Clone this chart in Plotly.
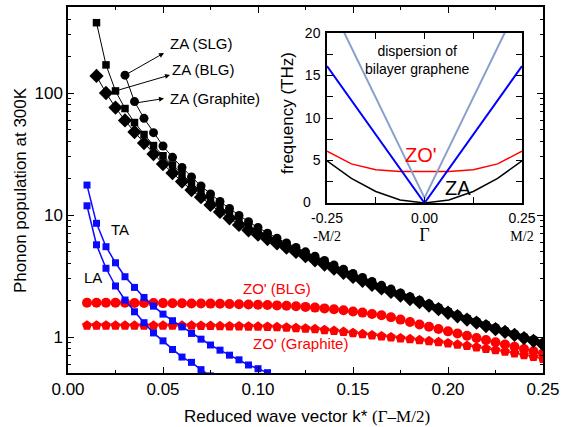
import math
import plotly.graph_objects as go

# ---------------- data (main panel) ----------------
k_all = [0.010, 0.015, 0.020, 0.025, 0.030, 0.035, 0.040, 0.045, 0.050, 0.055,
         0.060, 0.065, 0.070, 0.075, 0.080, 0.085, 0.090, 0.095, 0.100, 0.105,
         0.110, 0.115, 0.120, 0.125, 0.130, 0.135, 0.140, 0.145, 0.150, 0.155,
         0.160, 0.165, 0.170, 0.175, 0.180, 0.185, 0.190, 0.195, 0.200, 0.205,
         0.210, 0.215, 0.220, 0.225, 0.230, 0.235, 0.240, 0.245, 0.250]

k_za_square = k_all[1:]
za_square = [377, 170, 104, 74.6, 57.3, 45.7, 37.1, 30.6, 25.7, 21.5,
             18.2, 15.6, 13.4, 11.7, 10.3, 9.1, 8.1, 7.4, 6.7, 6.15,
             5.63, 5.2, 4.8, 4.42, 4.08, 3.77, 3.48, 3.22, 2.98, 2.77,
             2.58, 2.41, 2.25, 2.1, 1.96, 1.84, 1.72, 1.60, 1.50, 1.41,
             1.32, 1.245, 1.175, 1.11, 1.05, 0.99, 0.94, 0.885]

k_za_circle = k_all[4:]
za_circle = [140, 85, 62, 47.3, 36.8, 29.7,
             24.5, 20.5, 17.3, 14.9, 12.9, 11.3, 9.9, 8.8, 7.9, 7.1,
             6.45, 5.9, 5.42, 4.99, 4.6, 4.24, 3.9, 3.6, 3.32, 3.08,
             2.85, 2.65, 2.47, 2.30, 2.14, 2.0, 1.87, 1.74, 1.62, 1.52,
             1.42, 1.34, 1.26, 1.19, 1.12, 1.06, 1.0, 0.95, 0.9]

k_za_diamond = k_all[1:]
za_diamond = [138, 100, 76, 59.6, 47.9, 38.9, 31.6, 26.2, 22.1, 18.8,
              16.0, 14.0, 12.1, 10.6, 9.4, 8.3, 7.5, 6.9, 6.35, 5.85,
              5.4, 4.98, 4.6, 4.25, 3.93, 3.63, 3.36, 3.11, 2.89, 2.68,
              2.50, 2.34, 2.19, 2.05, 1.93, 1.81, 1.69, 1.58, 1.48, 1.39,
              1.31, 1.23, 1.16, 1.10, 1.04, 0.98, 0.93, 0.87]

k_ta = k_all[:22]
ta = [17.6, 8.55, 5.5, 4.06, 3.12, 2.55, 2.11, 1.79, 1.54, 1.36,
      1.21, 1.07, 0.96, 0.86, 0.78, 0.71, 0.65, 0.59, 0.55, 0.51,
      0.47, 0.44]

k_la = k_all[:15]
la = [11.9, 5.7, 3.66, 2.62, 2.01, 1.61, 1.31, 1.08, 0.93, 0.79,
      0.685, 0.62, 0.54, 0.48, 0.43]

zo_blg = [1.91, 1.91, 1.91, 1.907, 1.907, 1.903, 1.90, 1.90, 1.896, 1.892,
          1.889, 1.885, 1.882, 1.878, 1.871, 1.864, 1.857, 1.85, 1.84, 1.829,
          1.816, 1.802, 1.785, 1.765, 1.742, 1.716, 1.687, 1.656, 1.621, 1.585,
          1.543, 1.506, 1.45, 1.389, 1.327, 1.266, 1.212, 1.163, 1.113, 1.068,
          1.025, 0.983, 0.943, 0.905, 0.868, 0.831, 0.797, 0.765, 0.734]

zo_graphite = [1.243, 1.243, 1.243, 1.242, 1.242, 1.242, 1.242, 1.242, 1.241, 1.241,
               1.241, 1.240, 1.238, 1.235, 1.231, 1.228, 1.226, 1.222, 1.219, 1.214,
               1.208, 1.199, 1.187, 1.176, 1.161, 1.143, 1.124, 1.103, 1.080, 1.058,
               1.036, 1.015, 0.996, 0.979, 0.963, 0.945, 0.927, 0.910, 0.890, 0.868,
               0.847, 0.825, 0.803, 0.781, 0.759, 0.737, 0.713, 0.689, 0.665]

# ---------------- data (inset) ----------------
q_inset = [-0.25, -0.1875, -0.125, -0.0625, 0.0, 0.0625, 0.125, 0.1875, 0.25]
za_disp = [4.95, 2.9, 1.35, 0.35, 0.0, 0.35, 1.35, 2.9, 4.95]
zo_disp = [6.1, 4.6, 3.9, 3.7, 3.7, 3.7, 3.9, 4.6, 6.1]
q_v = [-0.25, 0.0, 0.25]
ta_disp = [16.1, 0.0, 16.1]
la_disp = [24.2, 0.6, 24.2]

FONT = "Liberation Sans, Arial, Helvetica, sans-serif"
W, H = 567, 427

fig = go.Figure()

BLACK = "#000000"
BLUE = "#0a0aff"
RED = "#ff0000"

def add(x, y, sym, size, color, lw=1.0, xa="x", ya="y"):
    fig.add_trace(go.Scatter(
        x=x, y=y, mode="lines+markers", xaxis=xa, yaxis=ya,
        line=dict(color=color, width=lw),
        marker=dict(symbol=sym, size=size, color=color, line=dict(width=0)),
        showlegend=False, cliponaxis=True))

add(k_all, zo_graphite, "pentagon", 10.5, RED, 1)
add(k_all, zo_blg, "circle", 10, RED, 1)
add(k_ta, ta, "square", 7, BLUE, 1.5)
add(k_la, la, "square", 7, BLUE, 1.5)
add(k_za_diamond, za_diamond, "diamond", 11, BLACK, 1)
add(k_za_square, za_square, "square", 7.5, BLACK, 1)
add(k_za_circle, za_circle, "circle", 9, BLACK, 1)

# inset traces
def addl(x, y, color, lw):
    fig.add_trace(go.Scatter(x=x, y=y, mode="lines", xaxis="x2", yaxis="y2",
                             line=dict(color=color, width=lw), showlegend=False))

addl(q_inset, za_disp, BLACK, 1.5)
addl(q_inset, zo_disp, RED, 1.5)
addl(q_v, ta_disp, "#0000ff", 2)
addl(q_v, la_disp, "#8aa0cc", 2)

# ---------------- layout ----------------
def px_x(p):
    return p / W

def px_y(p):
    return 1 - p / H

axis_common = dict(showline=True, linecolor="black", linewidth=1.5, mirror="ticks",
                   ticks="inside", ticklen=6, tickwidth=1.2, tickcolor="black",
                   showgrid=False, zeroline=False, automargin=False)

fig.update_layout(
    width=W, height=H, margin=dict(l=0, r=0, t=0, b=0, autoexpand=False),
    paper_bgcolor="white", plot_bgcolor="white",
    font=dict(family=FONT, color="black", size=17),
    xaxis=dict(domain=[px_x(68), px_x(543)], range=[0, 0.25], anchor="y",
               tickvals=[0, 0.05, 0.10, 0.15, 0.20, 0.25], tickformat=".2f",
               tickfont=dict(size=17),
               minor=dict(ticks="inside", ticklen=3, tickwidth=1, tickcolor="black", dtick=0.025),
               **axis_common),
    yaxis=dict(domain=[px_y(373), px_y(7)], type="log", range=[-0.295, 2.705], anchor="x",
               tickvals=[1, 10, 100], ticktext=["1", "10", "100"], tickfont=dict(size=17),
               minor=dict(ticks="inside", ticklen=3, tickwidth=1, tickcolor="black",
                          tickvals=[0.6, 0.7, 0.8, 0.9, 2, 3, 4, 5, 6, 7, 8, 9,
                                    20, 30, 40, 50, 60, 70, 80, 90, 200, 300, 400, 500]),
               **axis_common),
    xaxis2=dict(domain=[px_x(327), px_x(522)], range=[-0.25, 0.25], anchor="y2",
                tickvals=[-0.25, -0.125, 0, 0.125, 0.25],
                ticktext=["-0.25<br><span style='font-family:Liberation Serif'>-M/2</span>", "",
                          "0.00<br><span style='font-family:Liberation Serif;font-size:18px'>Γ</span>", "",
                          "0.25<br><span style='font-family:Liberation Serif'>M/2</span>"],
                tickfont=dict(size=14), ticklabelstandoff=1,
                **axis_common),
    yaxis2=dict(domain=[px_y(203), px_y(33)], range=[0, 20], anchor="x2",
                tickvals=[0, 2.5, 5, 7.5, 10, 12.5, 15, 17.5, 20],
                ticktext=["", "", "5", "", "10", "", "15", "", "20"],
                tickfont=dict(size=14), ticklabelstandoff=2,
                **axis_common),
)

ann = []
def text(t, x, y, size, color="black", xanchor="center", angle=0):
    ann.append(dict(text=t, x=px_x(x), y=px_y(y), xref="paper", yref="paper",
                    xanchor=xanchor, yanchor="middle", showarrow=False, textangle=angle,
                    font=dict(size=size, color=color, family=FONT)))

text("Reduced wave vector k* <span style='font-family:Liberation Serif'>(Γ–M/2)</span>",
     307, 416, 17)
text("Phonon population at 300K", 20, 190, 17, angle=-90)
text("frequency (THz)", 287, 113, 17, angle=-90)
text("0", 307, 202, 14)   # inset y-axis zero label, set left of the x labels as in the original

text("ZA (SLG)", 168, 43, 15, xanchor="left")
text("ZA (BLG)", 170, 70, 15, xanchor="left")
text("ZA (Graphite)", 168, 98, 15, xanchor="left")
text("TA", 120, 229, 15)
text("LA", 93, 277, 15)
text("ZO' (BLG)", 277, 288, 15, color=RED)
text("ZO' (Graphite)", 300, 343, 15, color=RED)
text("dispersion of<br>bilayer graphene", 417, 60, 14)
text("ZO'", 421, 155, 20, color=RED)
text("ZA", 458, 188, 20)

# arrows: tail at data marks, head near labels
def arrow(tail_x, tail_y, head_px_x, head_px_y):
    hx = (head_px_x - 68) / (543 - 68) * 0.25
    hy = -0.295 + (373 - head_px_y) / (373 - 7) * 3.0
    ann.append(dict(x=hx, y=hy, ax=tail_x, ay=math.log10(tail_y), xref="x", yref="y",
                    axref="x", ayref="y", showarrow=True, arrowhead=2, arrowsize=1,
                    arrowwidth=1, arrowcolor="black", text=""))

arrow(k_za_circle[0], za_circle[0], 164, 53)
arrow(k_za_square[2], za_square[2], 170, 75)
arrow(k_za_circle[1] - 0.002, za_circle[1] * 0.96, 164, 98.5)

fig.update_layout(annotations=ann)
fig.write_html("out.html")
